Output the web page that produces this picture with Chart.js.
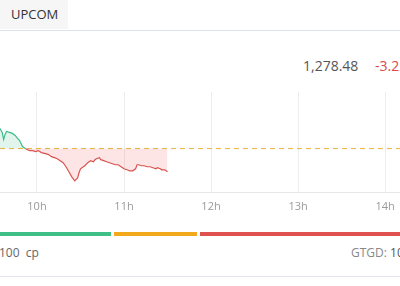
<!DOCTYPE html>
<html>
<head>
<meta charset="utf-8">
<script src="https://cdn.jsdelivr.net/npm/chart.js@4"></script>
<style>
  body { margin: 0; width: 400px; height: 286px; overflow: hidden; background: #fff; font-family: "Open Sans", sans-serif; position: relative; }
  .abs { position: absolute; white-space: nowrap; }
  #tab { left: 0; top: 0; width: 68px; height: 29px; background: #f6f6f6; color: #333; font-size: 13px; line-height: 29px; padding-left: 11px; box-sizing: border-box; }
  #topline { left: 0; top: 30px; width: 400px; height: 1px; background: #dce3ec; }
  #price { left: 303px; top: 56px; font-size: 14px; color: #555; }
  #chg { left: 375px; top: 56px; font-size: 14px; color: #e0474c; }
  #wrap { left: 0; top: 92px; width: 400px; height: 128px; }
  .bar { top: 232px; height: 4px; }
  #txtL { left: -1px; top: 244px; font-size: 12px; color: #666; }
  #txtR { left: 351px; top: 244px; font-size: 12px; color: #888; }
  #botline { left: 0; top: 276px; width: 400px; height: 1px; background: #e3e6ee; }
</style>
</head>
<body>
<div id="tab" class="abs">UPCOM</div>
<div id="topline" class="abs"></div>
<div id="price" class="abs">1,278.48</div>
<div id="chg" class="abs">-3.22</div>
<div id="wrap" class="abs"><canvas id="chart"></canvas></div>
<div id="bars"></div>
<div id="txtL" class="abs">100&nbsp; cp</div>
<div id="txtR" class="abs">GTGD: <span style="color:#555">10</span></div>
<div id="botline" class="abs"></div>
<script>
// minutes after 9:00
const minutes = [34, 36, 37, 38, 39, 41, 43, 45, 46, 48, 49, 50, 52, 53, 55, 57, 59, 61, 63, 66,
  68, 70, 72, 74, 76, 78, 80, 82, 84, 86, 88, 89, 90, 92, 93, 95, 96, 97, 99, 100,
  101, 103, 104, 106, 108, 110, 112, 114, 116, 118, 120, 122, 124, 126, 128, 129, 130, 132, 134, 136,
  138, 140, 142, 143, 145, 146, 148, 149, 150];
const prices = [1284.64, 1283.94, 1282.96, 1283.66, 1284.08, 1283.94, 1283.80, 1283.52, 1283.24, 1282.82,
  1282.40, 1281.98, 1281.70, 1281.56, 1281.42, 1281.42, 1281.28, 1281.42, 1281.14, 1281.00,
  1280.86, 1280.58, 1280.44, 1280.30, 1280.02, 1279.74, 1279.18, 1278.48, 1277.78, 1277.22,
  1277.64, 1278.34, 1278.90, 1279.18, 1279.32, 1279.74, 1279.88, 1280.02, 1279.88, 1280.16,
  1280.30, 1280.44, 1280.16, 1280.02, 1279.88, 1279.74, 1279.60, 1279.46, 1279.46, 1279.18,
  1278.90, 1278.76, 1278.62, 1278.62, 1278.90, 1279.46, 1279.46, 1279.32, 1279.32, 1279.18,
  1279.18, 1279.04, 1278.90, 1279.04, 1278.90, 1278.76, 1278.76, 1278.62, 1278.48];
const refPrice = 1281.70;
const tickHours = [10, 11, 12, 13, 14];
const breadth = [111, 83, 200]; // tăng / đứng giá / giảm (visible part)
const breadthColors = ['#3dbf87', '#f2a91c', '#e05252'];

// thanh độ rộng thị trường
let left = 0;
const bars = document.getElementById('bars');
breadth.forEach((w, i) => {
  const d = document.createElement('div');
  d.className = 'abs bar';
  d.style.left = left + 'px';
  d.style.width = w + 'px';
  d.style.background = breadthColors[i];
  bars.appendChild(d);
  left += w + 3;
});

const xMin = 574.5, xMax = 850.3;
const pts = minutes.map((m, i) => ({ x: 540 + m, y: prices[i] }));
const GREEN = '#3dbb8a', RED = '#d9524f';

new Chart(document.getElementById('chart'), {
  type: 'line',
  data: {
    datasets: [{
      data: pts,
      borderWidth: 1.2,
      pointRadius: 0,
      tension: 0,
      borderColor: RED,
      segment: {
        borderColor: c => ((c.p0.parsed.y + c.p1.parsed.y) / 2 >= refPrice ? GREEN : RED)
      },
      fill: { target: { value: refPrice }, above: 'rgba(60,190,130,0.15)', below: 'rgba(240,80,80,0.15)' }
    }, {
      data: [{ x: xMin, y: refPrice }, { x: xMax, y: refPrice }],
      borderColor: '#e8b43a',
      borderWidth: 1,
      borderDash: [5, 4],
      pointRadius: 0,
      fill: false
    }]
  },
  options: {
    responsive: true,
    maintainAspectRatio: false,
    animation: false,
    layout: { padding: 0 },
    plugins: { legend: { display: false }, tooltip: { enabled: false } },
    scales: {
      x: {
        type: 'linear',
        min: xMin,
        max: xMax,
        afterBuildTicks: s => { s.ticks = tickHours.map(h => ({ value: h * 60 })); },
        afterFit: s => { s.height = 28; s.paddingLeft = 0; s.paddingRight = 0; },
        grid: { color: '#ededed', drawTicks: false },
        border: { color: '#e6e6e6' },
        ticks: {
          padding: 8,
          color: '#999',
          font: { family: 'Open Sans', size: 11 },
          callback: v => (v / 60) + 'h'
        }
      },
      y: {
        display: false,
        min: 1275.68,
        max: 1289.54
      }
    }
  }
});
</script>
</body>
</html>
